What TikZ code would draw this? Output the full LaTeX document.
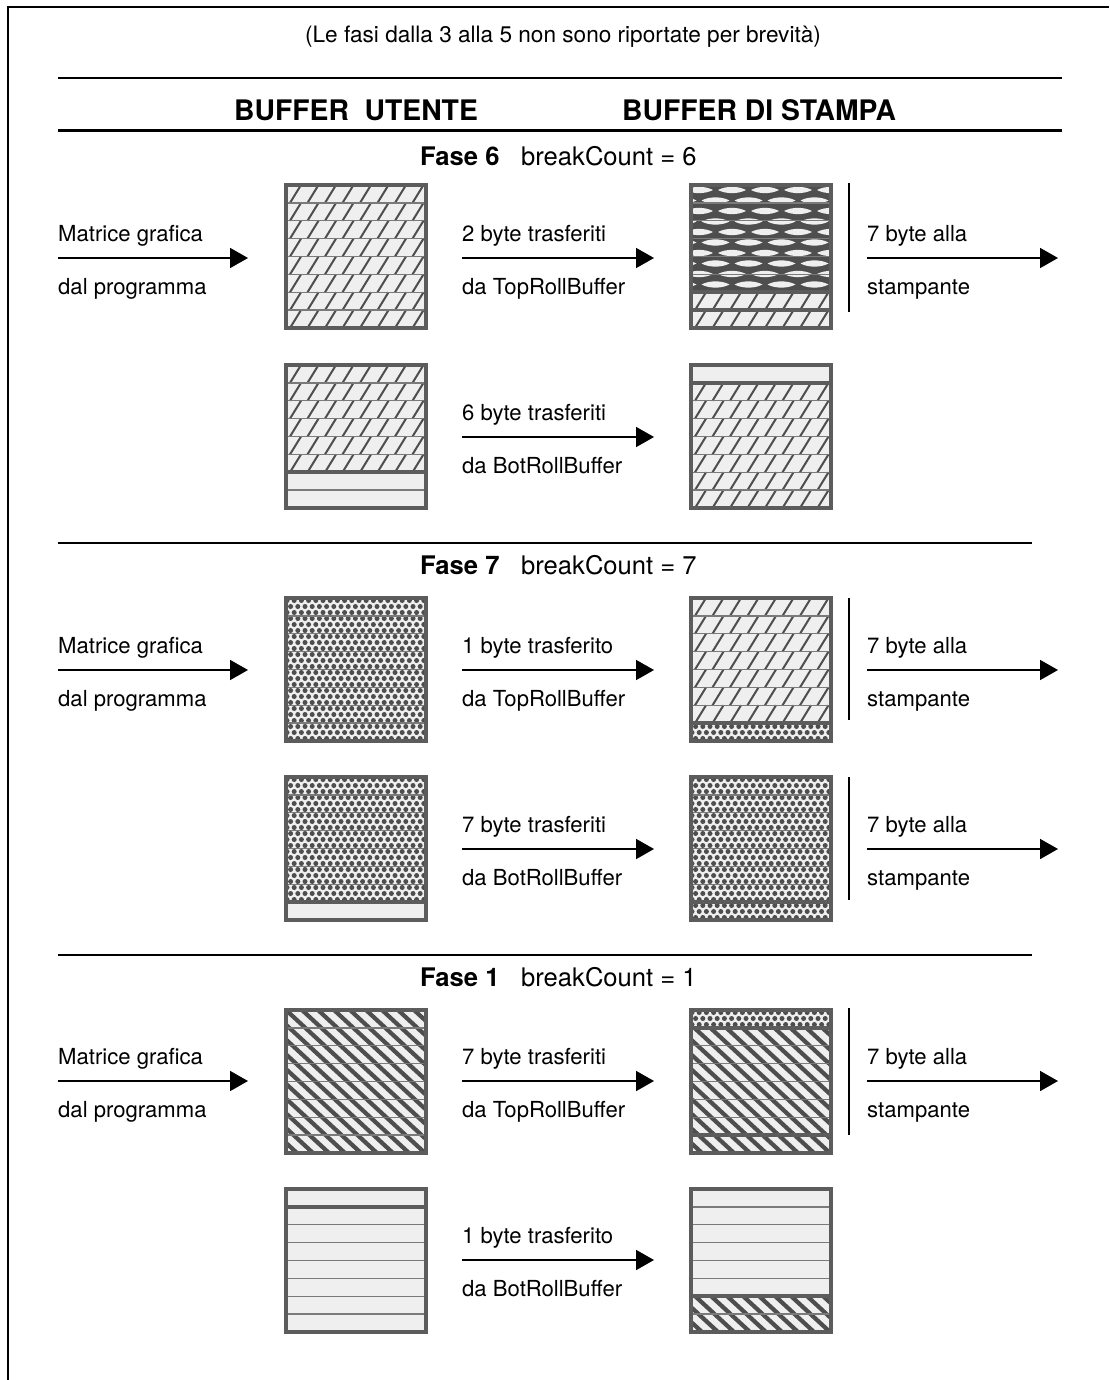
\documentclass[tikz,border=0pt]{standalone}
\usepackage{fontspec}
\setmainfont{TeX Gyre Heros}
\usetikzlibrary{arrows.meta}

\definecolor{boxgray}{HTML}{5C5C5C}
\definecolor{rowgray}{HTML}{7A7A7A}
\definecolor{hatch}{HTML}{4E4E4E}
\definecolor{paper}{HTML}{EFEFEF}

% current buffer box geometry (inner rectangle)
\newcommand{\bufbox}[2]{%
  \pgfmathsetmacro\X{#1+2}\pgfmathsetmacro\Y{#2+2}%
  \def\W{140}\def\H{143}\def\RH{17.875}%
  \fill[paper] (\X,\Y) rectangle ++(\W,\H);}
\newcommand{\bandclip}[2]{\clip (\X,\Y+#1*\RH) rectangle (\X+\W,\Y+#2*\RH);}
% short "/" strokes, one set per row
\newcommand{\slashband}[2]{%
  \begin{scope}\bandclip{#1}{#2}
    \foreach \r in {0,...,7}{\foreach \k in {0,...,7}{
      \draw[slashln] (\X+4+\k*17.5,\Y+\r*\RH+\RH) -- ++(11,-\RH);}}
  \end{scope}}
% long "\" hatching
\newcommand{\backband}[2]{%
  \begin{scope}\bandclip{#1}{#2}
    \foreach \k in {-11,...,9}{\draw[backln] (\X+\k*16,\Y) -- ++(155,143);}
  \end{scope}}
% staggered dots
\newcommand{\dotband}[2]{%
  \begin{scope}\bandclip{#1}{#2}
    \foreach \j in {0,...,24}{%
      \pgfmathsetmacro\off{mod(\j,2)*3.6}%
      \foreach \i in {0,...,20}{\fill[hatch] (\X+1+\off+\i*7.2,\Y+2.5+\j*6) circle (2.5pt);}}
  \end{scope}}
% dark mesh with light lenses
\newcommand{\lensband}[2]{%
  \fill[hatch] (\X,\Y+#1*\RH) rectangle (\X+\W,\Y+#2*\RH);
  \begin{scope}\bandclip{#1}{#2}
    \foreach \j in {0,...,10}{%
      \pgfmathsetmacro\off{mod(\j,2)*16.5}%
      \foreach \i in {-1,...,4}{%
        \pgfmathsetmacro\cx{\X+8+\off+\i*33}%
        \pgfmathsetmacro\cy{\Y+5+\j*10.5}%
        \fill[paper] (\cx-14,\cy) .. controls (\cx-6,\cy-4.2) and (\cx+6,\cy-4.2) .. (\cx+14,\cy)
          .. controls (\cx+6,\cy+4.2) and (\cx-6,\cy+4.2) .. (\cx-14,\cy) -- cycle;}}
  \end{scope}}
\newcommand{\rowlines}{\foreach \i in {1,...,7}{\draw[rowline] (\X,\Y+\i*\RH) -- ++(\W,0);}}
\newcommand{\sepat}[1]{\draw[sepline] (\X,\Y+#1*\RH) -- ++(\W,0);}
\newcommand{\frameit}{\draw[boxframe] (\X,\Y) rectangle ++(\W,\H);}

% labelled transfer arrow
\newcommand{\flow}[6]{%
  \coordinate (#1-s) at (#2,#4);
  \coordinate (#1-e) at (#3,#4);
  \node[lbl] (#1-t) at (#2,#4-17) {#5};
  \node[lbl] (#1-b) at (#2,#4+36) {#6};
  \draw[flowarrow] (#1-s) -- (#1-e);}
\newcommand{\vbar}[3]{%
  \coordinate (#1-a) at (849,#2);
  \coordinate (#1-b) at (849,#3);
  \draw[barline] (#1-a) -- (#1-b);}

\begin{document}
\begin{tikzpicture}[x=1pt,y=-1pt,
  boxframe/.style={draw=boxgray,line width=4pt},
  rowline/.style={draw=rowgray,line width=1.3pt},
  sepline/.style={draw=boxgray,line width=4pt},
  slashln/.style={draw=hatch,line width=2pt},
  backln/.style={draw=hatch,line width=4.2pt},
  flowarrow/.style={line width=1.8pt,-{Triangle[length=18pt,width=20pt]}},
  barline/.style={line width=2pt},
  rule/.style={line width=1.5pt},
  lbl/.style={font=\fontsize{22.1}{26}\selectfont,anchor=base west,inner sep=0pt},
  hd/.style={font=\fontsize{25.6}{30}\selectfont,anchor=base west,inner sep=0pt},
  hdb/.style={font=\fontsize{25.6}{30}\selectfont\bfseries,anchor=base west,inner sep=0pt},
  big/.style={font=\fontsize{28.3}{33}\selectfont\bfseries,anchor=base west,inner sep=0pt}]
\useasboundingbox (0,0) rectangle (1109,1380);

% page frame
\draw[line width=2.2pt] (8,1380) -- (8,7) -- (1109,7);

% heading
\node[font=\fontsize{22.6}{26}\selectfont,anchor=base,inner sep=0pt] (note) at (563,43)
  {(Le fasi dalla 3 alla 5 non sono riportate per brevità)};
\coordinate (r1a) at (58,78);  \coordinate (r1b) at (1062,78);
\coordinate (r2a) at (58,131); \coordinate (r2b) at (1062,131);
\draw[rule] (r1a) -- (r1b);
\draw[line width=3pt] (r2a) -- (r2b);
\node[big] (hu) at (234,121) {BUFFER\ \ UTENTE};
\node[big] (hs) at (622,121) {BUFFER DI STAMPA};

% ---------------- Fase 6 ----------------
\node[hdb] (f6a) at (420,166) {Fase 6};
\node[hd]  (f6b) at (521,166) {breakCount = 6};

\bufbox{284}{183}\slashband{0}{8}\rowlines\frameit
\bufbox{689}{183}\lensband{0}{6}\slashband{6}{8}\rowlines\sepat{6}\sepat{7}\frameit
\bufbox{284}{363}\slashband{0}{6}\rowlines\sepat{6}\frameit
\bufbox{689}{363}\slashband{1}{8}\rowlines\sepat{1}\frameit

\flow{f6u}{58}{248}{258}{Matrice grafica}{dal programma}
\flow{f6t}{462}{654}{258}{2 byte trasferiti}{da TopRollBuffer}
\flow{f6p}{867}{1058}{258}{7 byte alla}{stampante}
\vbar{f6v}{183}{312}
\flow{f6d}{462}{654}{437}{6 byte trasferiti}{da BotRollBuffer}

% ---------------- Fase 7 ----------------
\coordinate (r3a) at (58,543); \coordinate (r3b) at (1032,543);
\draw[rule] (r3a) -- (r3b);
\node[hdb] (f7a) at (420,574) {Fase 7};
\node[hd]  (f7b) at (521,574) {breakCount = 7};

\bufbox{284}{596}\dotband{0}{8}\rowlines\frameit
\bufbox{689}{596}\slashband{0}{7}\dotband{7}{8}\rowlines\sepat{7}\frameit
\bufbox{284}{775}\dotband{0}{7}\rowlines\sepat{7}\frameit
\bufbox{689}{775}\dotband{0}{8}\rowlines\sepat{7}\frameit

\flow{f7u}{58}{248}{670}{Matrice grafica}{dal programma}
\flow{f7t}{462}{654}{670}{1 byte trasferito}{da TopRollBuffer}
\flow{f7p}{867}{1058}{670}{7 byte alla}{stampante}
\vbar{f7v}{598}{720}
\flow{f7d}{462}{654}{849}{7 byte trasferiti}{da BotRollBuffer}
\flow{f7q}{867}{1058}{849}{7 byte alla}{stampante}
\vbar{f7w}{777}{900}

% ---------------- Fase 1 ----------------
\coordinate (r4a) at (58,955); \coordinate (r4b) at (1032,955);
\draw[rule] (r4a) -- (r4b);
\node[hdb] (f1a) at (420,986) {Fase 1};
\node[hd]  (f1b) at (521,986) {breakCount = 1};

\bufbox{284}{1008}\backband{0}{8}\rowlines\frameit
\bufbox{689}{1008}\dotband{0}{1}\backband{1}{8}\rowlines\sepat{1}\sepat{7}\frameit
\bufbox{284}{1187}\rowlines\sepat{1}\frameit
\bufbox{689}{1187}\backband{6}{8}\rowlines\sepat{6}\frameit

\flow{f1u}{58}{248}{1081}{Matrice grafica}{dal programma}
\flow{f1t}{462}{654}{1081}{7 byte trasferiti}{da TopRollBuffer}
\flow{f1p}{867}{1058}{1081}{7 byte alla}{stampante}
\vbar{f1v}{1008}{1135}
\flow{f1d}{462}{654}{1260}{1 byte trasferito}{da BotRollBuffer}
\end{tikzpicture}
\end{document}
